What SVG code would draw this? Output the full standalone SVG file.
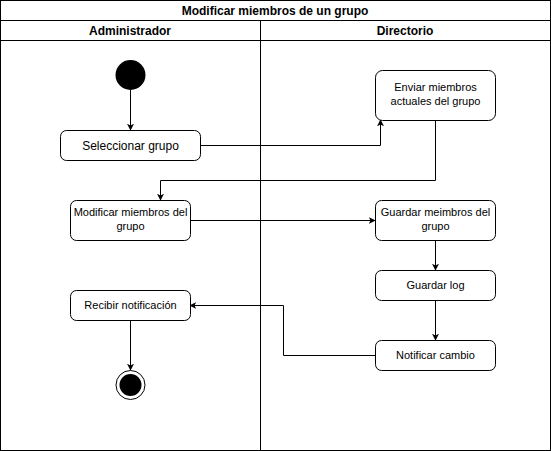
<svg xmlns="http://www.w3.org/2000/svg" width="551" height="451" viewBox="0 0 551 451">
<defs>
<style>
text{font-family:"Liberation Sans",Arial,sans-serif;font-size:11px;fill:#000;text-anchor:middle}
.h{font-weight:bold;font-size:12px}
.big{font-size:12px}
.box{fill:#fff;stroke:#000;stroke-width:1}
.ln{fill:none;stroke:#000;stroke-width:1}
</style>
<marker id="a" viewBox="0 0 10 10" refX="9" refY="5" markerWidth="7" markerHeight="7" orient="auto" markerUnits="userSpaceOnUse">
<path d="M0,0 L10,5 L0,10 L2.5,5 Z" fill="#000"/>
</marker>
</defs>
<rect x="0" y="0" width="551" height="451" fill="#fff"/>
<g id="pool">
<rect x="0.5" y="0.5" width="550" height="450" class="ln"/>
<line x1="0.5" y1="20.5" x2="550.5" y2="20.5" class="ln"/>
<line x1="0.5" y1="40.5" x2="550.5" y2="40.5" class="ln"/>
<line x1="260.5" y1="20.5" x2="260.5" y2="450.5" class="ln"/>
<text x="275" y="15" class="h">Modificar miembros de un grupo</text>
<text x="130" y="35" class="h">Administrador</text>
<text x="405" y="35" class="h">Directorio</text>
</g>
<g id="connectors">
<line x1="130.5" y1="90" x2="130.5" y2="130" class="ln" marker-end="url(#a)"/>
<polyline points="200,145.5 380.5,145.5 380.5,120" class="ln" marker-end="url(#a)"/>
<polyline points="435.5,120 435.5,180.5 160.5,180.5 160.5,200" class="ln" marker-end="url(#a)"/>
<line x1="190" y1="220.5" x2="375" y2="220.5" class="ln" marker-end="url(#a)"/>
<line x1="435.5" y1="240" x2="435.5" y2="270" class="ln" marker-end="url(#a)"/>
<line x1="435.5" y1="300" x2="435.5" y2="340" class="ln" marker-end="url(#a)"/>
<polyline points="375,355.5 283.5,355.5 283.5,305.5 190,305.5" class="ln" marker-end="url(#a)"/>
<line x1="130.5" y1="320" x2="130.5" y2="370" class="ln" marker-end="url(#a)"/>
</g>
<g id="start"><circle cx="130.5" cy="75" r="15" fill="#000"/></g>
<g id="seleccionar"><rect x="60.5" y="130.5" width="140" height="30" rx="6" class="box"/><text x="130.5" y="149.5" class="big">Seleccionar grupo</text></g>
<g id="enviar"><rect x="375.5" y="70.5" width="120" height="50" rx="7" class="box"/><text x="435.5" y="91">Enviar miembros</text><text x="435.5" y="105">actuales del grupo</text></g>
<g id="modificar"><rect x="70.5" y="200.5" width="120" height="40" rx="6" class="box"/><text x="130.5" y="216">Modificar miembros del</text><text x="130.5" y="230">grupo</text></g>
<g id="guardar"><rect x="375.5" y="200.5" width="120" height="40" rx="6" class="box"/><text x="435.5" y="216">Guardar meimbros del</text><text x="435.5" y="230">grupo</text></g>
<g id="log"><rect x="375.5" y="270.5" width="120" height="30" rx="6" class="box"/><text x="435.5" y="289">Guardar log</text></g>
<g id="notificar"><rect x="375.5" y="340.5" width="120" height="30" rx="6" class="box"/><text x="435.5" y="359">Notificar cambio</text></g>
<g id="recibir"><rect x="70.5" y="290.5" width="120" height="30" rx="6" class="box"/><text x="130.5" y="309">Recibir notificación</text></g>
<g id="end"><circle cx="130.5" cy="385" r="14.5" fill="#fff" stroke="#000" stroke-width="1"/><circle cx="130.5" cy="385" r="11" fill="#000"/></g>
</svg>
